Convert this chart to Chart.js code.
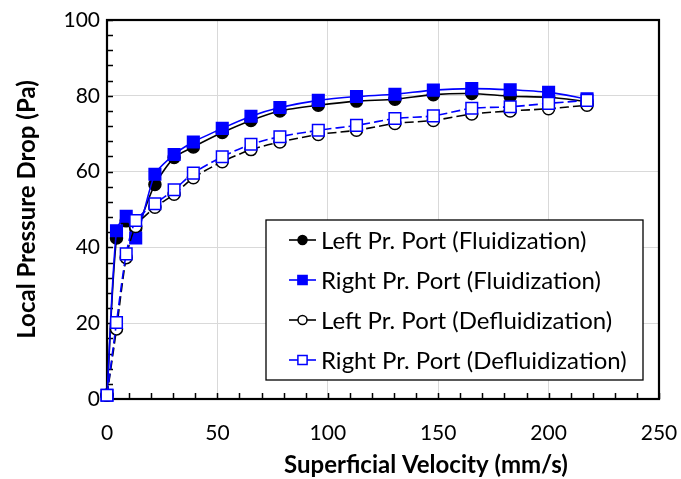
<!DOCTYPE html>
<html>
<head>
<meta charset="utf-8">
<script src="https://cdn.jsdelivr.net/npm/chart.js@4.4.1/dist/chart.umd.min.js"></script>
<style>
  html, body { margin: 0; padding: 0; background: #fff; }
  #wrap { width: 681px; height: 479px; }
</style>
</head>
<body>
<div id="wrap"><canvas id="c" width="681" height="479"></canvas></div>
<script>
// Superficial velocity (mm/s) at each measurement step
const velocity = [0, 4.3, 8.7, 13.0, 21.7, 30.4, 39.1, 52.2, 65.2, 78.3, 95.7, 113.0, 130.4, 147.8, 165.2, 182.6, 200.0, 217.4];

// Local pressure drop (Pa) at the two pressure ports
const leftFluidization    = [1, 42.5, 47.0, 45.0, 56.6, 63.7, 66.5, 70.3, 73.5, 76.0, 77.5, 78.6, 79.1, 80.3, 80.6, 79.9, 79.6, 78.5];
const rightFluidization   = [1, 44.4, 48.2, 42.5, 59.3, 64.5, 67.8, 71.4, 74.6, 76.9, 78.8, 79.8, 80.4, 81.5, 81.9, 81.6, 80.9, 79.2];
const leftDefluidization  = [1, 18.5, 37.3, 45.5, 50.6, 54.0, 58.4, 62.6, 65.8, 67.8, 69.8, 70.9, 72.7, 73.5, 75.2, 76.0, 76.6, 77.5];
const rightDefluidization = [1, 20.2, 38.3, 47.1, 51.5, 55.2, 59.6, 63.9, 67.2, 69.2, 70.9, 72.2, 74.0, 74.7, 76.7, 77.1, 78.0, 78.8];

const seriesNames = [
  'Left Pr. Port (Fluidization)',
  'Right Pr. Port (Fluidization)',
  'Left Pr. Port (Defluidization)',
  'Right Pr. Port (Defluidization)'
];

const xTicks = [0, 50, 100, 150, 200, 250];
const yTicks = [0, 20, 40, 60, 80, 100];

const xTitle = 'Superficial Velocity (mm/s)';
const yTitle = 'Local Pressure Drop (Pa)';

const FONT = 'Lato, "Open Sans", sans-serif';
const BLUE = '#0000ff';

function toPoints(ys) {
  return velocity.map((v, i) => ({ x: v, y: ys[i] }));
}

function makeSet(label, ys, color, style, filled, dashed, radius, order) {
  return {
    label,
    data: toPoints(ys),
    borderColor: color,
    backgroundColor: filled ? color : '#ffffff',
    borderWidth: 1.6,
    borderDash: dashed ? [9, 4] : [],
    pointStyle: style,
    pointRadius: radius,
    pointHoverRadius: radius,
    pointBorderColor: color,
    pointBackgroundColor: filled ? color : '#ffffff',
    pointBorderWidth: 1.5,
    tension: 0.25,
    clip: false,
    order
  };
}

const datasets = [
  makeSet(seriesNames[0], leftFluidization, '#000000', 'circle', true, false, 6, 3),
  makeSet(seriesNames[1], rightFluidization, BLUE, 'rect', true, false, 8.2, 2),
  makeSet(seriesNames[2], leftDefluidization, '#000000', 'circle', false, true, 6, 1),
  makeSet(seriesNames[3], rightDefluidization, BLUE, 'rect', false, true, 8.2, 0)
];

// Plot frame with inward tick marks (major + minor)
const framePlugin = {
  id: 'frameTicks',
  beforeDatasetsDraw(chart) {
    const { ctx, chartArea: a, scales: { x, y } } = chart;
    ctx.save();
    ctx.strokeStyle = '#000';
    ctx.lineWidth = 1.5;
    const len = 6;
    ctx.beginPath();
    for (let v = 0; v <= 250; v += 10) {
      const px = Math.round(x.getPixelForValue(v)) + 0.5;
      ctx.moveTo(px, a.bottom);
      ctx.lineTo(px, a.bottom - len);
    }
    for (let v = 0; v <= 100; v += 4) {
      const py = Math.round(y.getPixelForValue(v)) + 0.5;
      ctx.moveTo(a.left, py);
      ctx.lineTo(a.left + len, py);
    }
    ctx.stroke();
    ctx.lineWidth = 2.2;
    ctx.strokeRect(a.left, a.top, a.right - a.left, a.bottom - a.top);
    ctx.restore();
  }
};

// Horizontal axis title, set a little right of the plot centre
const xTitlePlugin = {
  id: 'xTitle',
  afterDraw(chart) {
    const { ctx, chartArea: a } = chart;
    ctx.save();
    ctx.font = 'bold 24px ' + FONT;
    ctx.fillStyle = '#000';
    ctx.textAlign = 'center';
    ctx.textBaseline = 'middle';
    ctx.fillText(xTitle, a.left + 319, 465);
    ctx.restore();
  }
};

// Boxed legend inside the plot area
const legendPlugin = {
  id: 'boxLegend',
  afterDatasetsDraw(chart) {
    const { ctx, chartArea: a } = chart;
    const bx = a.left + 159, by = a.top + 200, bw = 377, bh = 160;
    ctx.save();
    ctx.fillStyle = '#fff';
    ctx.fillRect(bx, by, bw, bh);
    ctx.strokeStyle = '#000';
    ctx.lineWidth = 1.3;
    ctx.strokeRect(bx, by, bw, bh);
    ctx.font = '24px ' + FONT;
    ctx.textBaseline = 'middle';
    ctx.textAlign = 'left';
    chart.data.datasets.forEach((ds, i) => {
      const cy = by + 20 + i * 40;
      const x0 = bx + 23, x1 = bx + 50, mx = (x0 + x1) / 2;
      ctx.strokeStyle = ds.borderColor;
      ctx.lineWidth = 1.6;
      ctx.setLineDash([]);
      ctx.beginPath();
      ctx.moveTo(x0, cy);
      ctx.lineTo(x1, cy);
      ctx.stroke();
      ctx.fillStyle = ds.pointBackgroundColor;
      ctx.strokeStyle = ds.pointBorderColor;
      ctx.lineWidth = 1.5;
      Chart.helpers.drawPoint(ctx, {
        pointStyle: ds.pointStyle,
        rotation: 0,
        borderWidth: 1.5,
        radius: ds.pointStyle === 'rect' ? 6.5 : 4.5
      }, mx, cy);
      ctx.fillStyle = '#000';
      ctx.fillText(ds.label, bx + 55, cy + 1);
    });
    ctx.restore();
  }
};

new Chart(document.getElementById('c'), {
  type: 'line',
  data: { datasets },
  options: {
    responsive: false,
    animation: false,
    devicePixelRatio: 1,
    layout: { padding: { top: 20, right: 22, left: 0, bottom: 0 } },
    plugins: { legend: { display: false }, tooltip: { enabled: false } },
    scales: {
      x: {
        type: 'linear',
        min: 0, max: 250,
        afterFit(s) { s.height = 80; s.paddingLeft = 0; s.paddingRight = 0; },
        afterBuildTicks(s) { s.ticks = xTicks.map(v => ({ value: v })); },
        ticks: { color: '#000', font: { family: FONT, size: 21 }, padding: 22, maxRotation: 0 },
        grid: { color: '#d9d9d9', lineWidth: 1, drawTicks: false },
        border: { display: false },
        title: { display: false }
      },
      y: {
        type: 'linear',
        min: 0, max: 100,
        afterFit(s) { s.width = 107; s.paddingTop = 0; s.paddingBottom = 0; },
        afterBuildTicks(s) { s.ticks = yTicks.map(v => ({ value: v })); },
        ticks: { color: '#000', font: { family: FONT, size: 21 }, padding: 7 },
        grid: { color: '#d9d9d9', lineWidth: 1, drawTicks: false },
        border: { display: false },
        title: {
          display: true,
          text: yTitle,
          color: '#000',
          font: { family: FONT, size: 24, weight: 'bold' },
          padding: { top: 13, bottom: 0 }
        }
      }
    }
  },
  plugins: [framePlugin, legendPlugin, xTitlePlugin]
});
</script>
</body>
</html>
